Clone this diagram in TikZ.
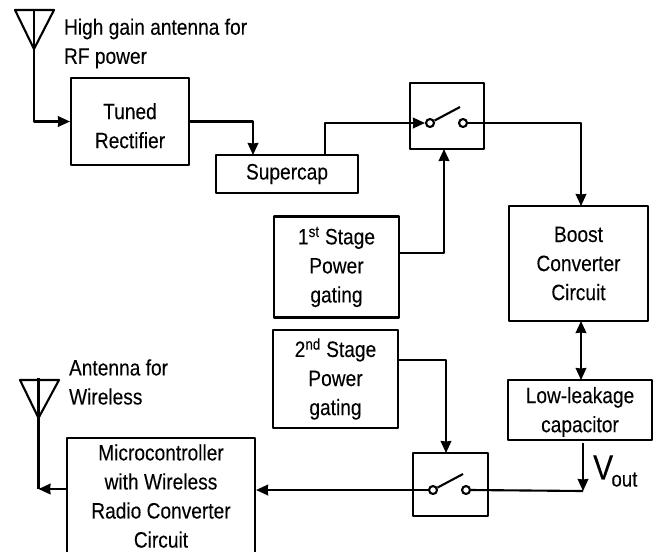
\documentclass[tikz,border=0pt]{standalone}
\usepackage{fontspec}
\setmainfont{Liberation Sans}[FakeStretch=0.86,FakeBold=0.15]
\usetikzlibrary{arrows.meta}

\begin{document}
\begin{tikzpicture}[
    x=0.03cm, y=-0.03cm,
    >={Stealth[length=0.36cm,width=0.32cm,inset=0.4pt]},
    line join=round,
    line width=1.8pt,
    font=\fontsize{19}{24.8}\selectfont,
    blockbox/.style={draw, align=center, inner sep=0pt},
    contact/.style={draw, circle, fill=white, inner sep=0pt, minimum size=0.24cm},
    caption/.style={anchor=west, align=left, inner sep=0pt}
]

% ======================================
% Picture frame
% ======================================
\useasboundingbox (0,0) rectangle (656,551);
\clip (0,0) rectangle (656,551);

% ======================================
% Blocks
% ======================================
\node[blockbox, minimum width=3.54cm, minimum height=2.61cm] (rectifier) at (130,121.5) {\rule{0pt}{21pt}Tuned\\Rectifier};
\node[blockbox, minimum width=4.26cm, minimum height=1.14cm] (supercap) at (287,174) {Supercap};
\node[blockbox, minimum width=3.75cm, minimum height=3.03cm] (stageOne) at (336.5,267) {1\textsuperscript{st} Stage\\Power\\gating};
\node[blockbox, minimum width=3.75cm, minimum height=2.94cm] (stageTwo) at (335.5,379) {2\textsuperscript{nd} Stage\\Power\\gating};
\node[blockbox, minimum width=4.17cm, minimum height=3.45cm] (boost) at (578.5,263.5) {Boost\\Converter\\Circuit};
\node[blockbox, minimum width=4.32cm, minimum height=1.80cm] (leakcap) at (580,410) {\rule{0pt}{17pt}Low-leakage\\capacitor};
\node[blockbox, minimum width=5.64cm, minimum height=3.48cm] (micro) at (161,496) {Microcontroller\\with Wireless\\Radio Converter\\Circuit};

% ======================================
% Switches
% ======================================
\node[blockbox, minimum width=2.22cm, minimum height=1.98cm] (swTop) at (447,116) {};
\node[contact] (swTopL) at (430,123) {};
\node[contact] (swTopR) at (463,123) {};
\draw (swTopL) -- (460,107);

\node[blockbox, minimum width=2.25cm, minimum height=1.89cm] (swBot) at (450.5,484.5) {};
\node[contact] (swBotL) at (433,490) {};
\node[contact] (swBotR) at (466,490) {};
\draw (swBotL) -- (463,474);

% ======================================
% Antennas
% ======================================
\coordinate (antHigh) at (34,49);
\draw (15,10) -- (54,10) -- (antHigh) -- cycle;
\draw (34,10) -- (antHigh);
\draw[->] (antHigh) |- (rectifier.west);

\coordinate (antLow) at (38.5,418);
\draw (20,380) -- (59,380) -- (antLow) -- cycle;
\draw (38.5,378) -- (antLow) -- (38.5,489);
\coordinate (microOut) at (micro.west |- 0,489);
\draw[->] (microOut) -- (38.5,489);

% ======================================
% Upper power path
% ======================================
\coordinate (capIn) at (253,155);
\coordinate (capOut) at (325,155);
\draw[->] (rectifier.east) -| (capIn);
\draw[->] (capOut) |- (swTopL.west);

\coordinate (boostIn) at (581,206);
\draw[->] (swTopR.east) -| (boostIn);

\coordinate (gateOne) at (399,253);
\coordinate (swTopGate) at (444,149);
\draw[->] (gateOne) -| (swTopGate);

% ======================================
% Lower power path
% ======================================
\coordinate (boostOut) at (581,321);
\coordinate (leakIn) at (581,380);
\draw[<->] (boostOut) -- (leakIn);

\coordinate (gateTwo) at (398,360);
\coordinate (swBotGate) at (446,453);
\draw[->] (gateTwo) -| (swBotGate);

\coordinate (leakOut) at (583,443);
\coordinate (vout) at (583,491);
\draw[->] (leakOut) -- (vout);
\draw (swBotR.east) -- (vout);

\coordinate (microIn) at (micro.east |- 0,490);
\draw[->] (swBotL.west) -- (microIn);

% ======================================
% Captions
% ======================================
\node[caption] (capHigh) at (63,43.5) {High gain antenna for\\RF power};
\node[caption] (capLow) at (68,382) {Antenna for\\Wireless};
\node[anchor=west, inner sep=0pt, font=\fontsize{30}{30}\selectfont] (voutLabel) at (592,471)
    {V\kern-1.5pt\raisebox{-6pt}{\fontsize{18.5}{19}\selectfont out}};

\end{tikzpicture}
\end{document}
